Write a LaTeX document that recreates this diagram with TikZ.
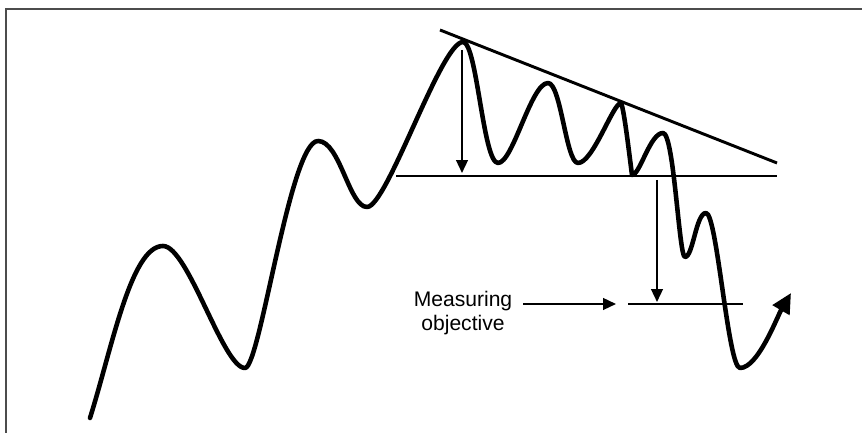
\documentclass[tikz,border=0pt]{standalone}
\usepackage{fontspec}
\setmainfont{Liberation Sans}
\usetikzlibrary{arrows.meta}

\begin{document}
\begin{tikzpicture}[x=0.03cm,y=0.03cm,
  price/.style={line width=3.9pt,line join=round,line cap=round},
  trend/.style={line width=2.5pt},
  pointer/.style={line width=1.6pt,-{Triangle[length=11pt,width=10pt]}}]
\useasboundingbox (0,0) rectangle (862,433);
\draw[line width=1.5pt,black!70] (6,0) -- (6,424) -- (862,424);
% price path
\draw[price,-{Triangle[length=17pt,width=16pt]}] (90,15)
  .. controls +(22,70) and +(-32,0) .. (163,187)
  .. controls +(25,0) and +(-22,0) .. (245,65)
  .. controls +(15,0) and +(-28,0) .. (318,292)
  .. controls +(22,0) and +(-18,0) .. (367,226)
  .. controls +(20,0) and +(-22,0) .. (463,391)
  .. controls +(14,0) and +(-15,0) .. (498,270)
  .. controls +(15,0) and +(-17,0) .. (548,350)
  .. controls +(13,0) and +(-12,0) .. (578,270)
  .. controls +(15,0) and +(-8,0) .. (621,330)
  .. controls +(3,-5) and +(-2,15) .. (632,258)
  .. controls +(8,0) and +(-13,0) .. (663,300)
  .. controls +(11,0) and +(-6,0) .. (685,176)
  .. controls +(8,0) and +(-10,0) .. (706,220)
  .. controls +(11,0) and +(-12,0) .. (740,65)
  .. controls +(18,0) and +(-14,-24) .. (791,140);
% triangle lines
\coordinate (resA) at (440,403);
\coordinate (resB) at (777,270);
\coordinate (supA) at (396,257);
\coordinate (supB) at (777,257);
\coordinate (objA) at (628,129);
\coordinate (objB) at (743,129);
\draw[trend] (resA) -- (resB);
\draw[trend] (supA) -- (supB);
\draw[trend] (objA) -- (objB);
% height of the pattern
\coordinate (topH) at (462,383);
\coordinate (topF) at (462,260);
\coordinate (brkH) at (657,253);
\coordinate (brkF) at (657,131);
\draw[pointer] (topH) -- (topF);
\draw[pointer] (brkH) -- (brkF);
\node[align=center,font=\fontsize{18}{20}\selectfont] (label) at (463,120) {Measuring\\objective};
\draw[pointer] ([xshift=0.2cm]label.east |- objA) -- ([xshift=-0.36cm]objA);
\end{tikzpicture}
\end{document}
